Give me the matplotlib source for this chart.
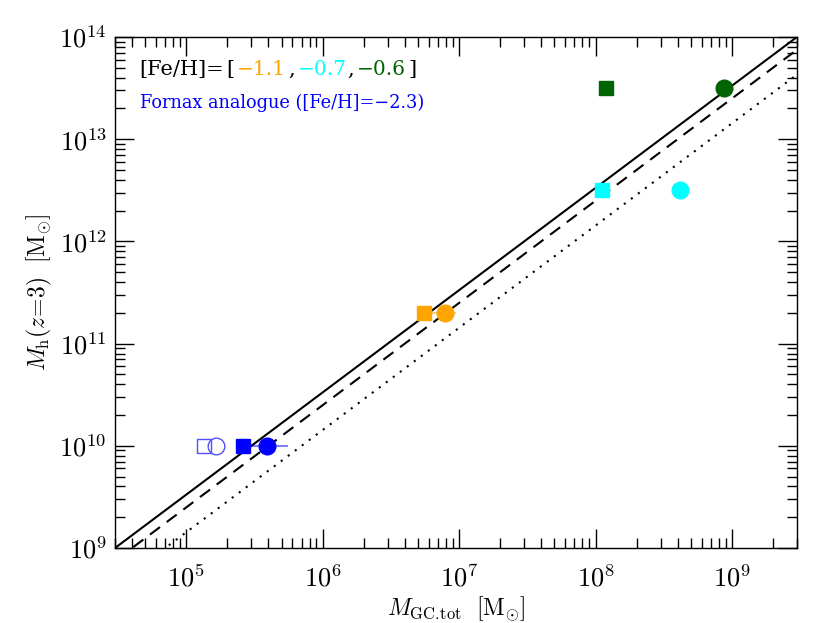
import matplotlib
matplotlib.use('Agg')
import matplotlib.pyplot as plt
import matplotlib.ticker as ticker
import numpy as np

plt.rcParams['mathtext.fontset'] = 'cm'
plt.rcParams['font.family'] = ['DejaVu Serif']

# halo mass at z=3 for each metallicity
feh_labels = ['\u22121.1', '\u22120.7', '\u22120.6']
feh_colors = ['#FFA500', '#00FFFF', '#006400']
mh = [2.0e11, 3.2e12, 3.2e13]
mgc_square = [5.5e6, 1.12e8, 1.19e8]
mgc_circle = [7.9e6, 4.16e8, 8.8e8]

# Fornax analogue
fnx_mh = 1.0e10
fnx_square = 2.6e5
fnx_circle = 3.9e5
fnx_open_square = 1.35e5
fnx_open_circle = 1.66e5

# horizontal ranges (start, end) drawn as thin lines
range_lines = [(5.5e6, 9.3e6, 2.0e11, '#FFA500'), (2.6e5, 5.5e5, 1.0e10, '#0000FF')]

# M_GC / M_h fractions for the reference lines
eta = [3e-5, 4e-5, 7e-5]
eta_styles = ['-', (0, (6, 4)), (0, (1, 3.2))]

fig = plt.figure(figsize=(8.3, 6.23), dpi=100)
ax = fig.add_axes([0.1386, 0.1204, 0.9602 - 0.1386, 0.9406 - 0.1204])

xx = np.array([1e4, 1e10])
for e, ls in zip(eta, eta_styles):
    ax.plot(xx, xx / e, color='black', ls=ls, lw=1.5)

for x0, x1, y, c in range_lines:
    ax.plot([x0, x1], [y, y], color=c, lw=1.5, alpha=0.5)

for c, y, xs, xc in zip(feh_colors, mh, mgc_square, mgc_circle):
    ax.plot(xs, y, marker='s', ms=10, color=c, ls='none')
    ax.plot(xc, y, marker='o', ms=12, color=c, ls='none')

ax.plot(fnx_square, fnx_mh, marker='s', ms=10, color='#0000FF', ls='none')
ax.plot(fnx_circle, fnx_mh, marker='o', ms=12, color='#0000FF', ls='none')
ax.plot(fnx_open_square, fnx_mh, marker='s', ms=10, mfc='none', mec='#5050FF', mew=1.0, ls='none')
ax.plot(fnx_open_circle, fnx_mh, marker='o', ms=12, mfc='none', mec='#5050FF', mew=1.0, ls='none')

ax.set_xscale('log')
ax.set_yscale('log')
ax.set_xlim(3e4, 3e9)
ax.set_ylim(1e9, 1e14)

fmt = ticker.FuncFormatter(lambda v, p: r'$10^{%d}$' % round(np.log10(v)))
ax.xaxis.set_major_formatter(fmt)
ax.yaxis.set_major_formatter(fmt)
ax.xaxis.set_minor_formatter(ticker.NullFormatter())
ax.yaxis.set_minor_formatter(ticker.NullFormatter())

ax.tick_params(which='both', direction='in', top=True, right=True, labelsize=19)
ax.tick_params(which='major', length=14, width=1)
ax.tick_params(which='minor', length=7, width=1)
ax.tick_params(axis='x', pad=12)
ax.tick_params(axis='y', pad=6)
for s in ax.spines.values():
    s.set_linewidth(1)

ax.set_xlabel(r'$M_{{\rm GC}.\!{\rm tot}}\ \ [{\rm M}_{\odot}]$', fontsize=17, labelpad=2)
ax.set_ylabel(r'$M_{\rm h}(z\!=\!3)\ \ [{\rm M}_{\odot}]$', fontsize=17, labelpad=4)

# coloured metallicity line, pieces placed along the line
fs = 15
ypos = 0.925
ax.text(0.036, ypos, '[Fe/H]=', transform=ax.transAxes, fontsize=fs, color='black', va='baseline')
ax.text(0.163, ypos, '[', transform=ax.transAxes, fontsize=fs, color='black', va='baseline')
piece_x = [0.178, 0.268, 0.354]
comma_x = [0.2546, 0.3406, 0.430]
for i, (lab, c) in enumerate(zip(feh_labels, feh_colors)):
    ax.text(piece_x[i], ypos, lab, transform=ax.transAxes, fontsize=fs - 0.5, color=c, va='baseline')
    ax.text(comma_x[i], ypos, ',' if i < len(feh_labels) - 1 else ']', transform=ax.transAxes,
            fontsize=fs, color='black', va='baseline')

ax.text(0.036, 0.862, 'Fornax analogue ([Fe/H]=\u22122.3)', transform=ax.transAxes,
        fontsize=12.8, color='#0000FF', va='baseline')

fig.savefig('out.png', dpi=100)
